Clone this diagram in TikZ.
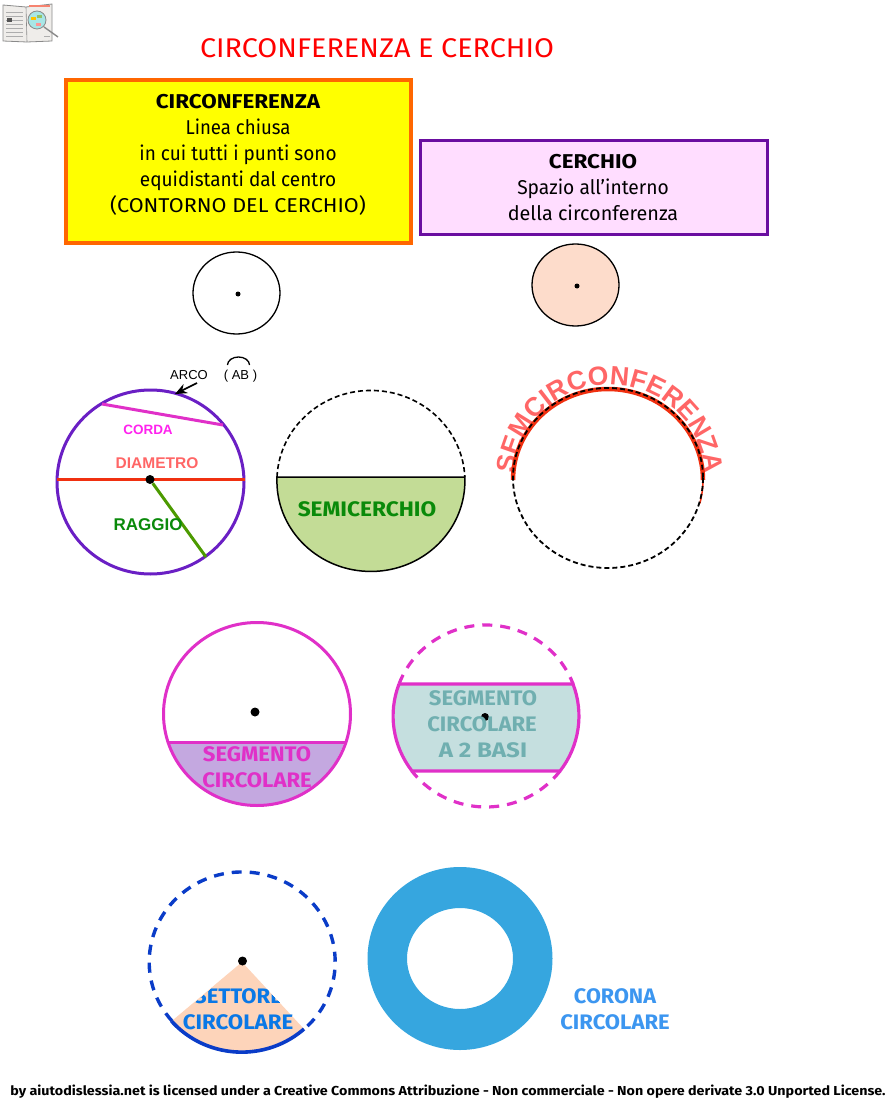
\documentclass[tikz,border=0pt]{standalone}
\usepackage{fontspec}
\usepackage{graphicx}
\usetikzlibrary{decorations.text,arrows.meta}
\setmainfont{Fira Sans}
\newfontfamily\arialf{Liberation Sans}
\newcommand\sxx[2]{\scalebox{#1}[1]{#2}}
\definecolor{purp}{HTML}{6A1FC4}
\definecolor{pink}{HTML}{E030C8}
\definecolor{redl}{HTML}{F03010}
\definecolor{salmon}{HTML}{FF6666}
\definecolor{grn}{HTML}{4C9A00}
\definecolor{dgreen}{HTML}{0A8A0A}
\definecolor{peach}{HTML}{FDDCCB}
\definecolor{sect}{HTML}{FDD4BA}
\definecolor{lgreen}{HTML}{C3DC96}
\definecolor{lilac}{HTML}{C4A8E0}
\definecolor{pale}{HTML}{C5DFDF}
\definecolor{teal2}{HTML}{70AFB0}
\definecolor{blued}{HTML}{0A3CC8}
\definecolor{bluet}{HTML}{0A78E6}
\definecolor{ringc}{HTML}{36A6DF}
\definecolor{coronat}{HTML}{3C96F0}
\definecolor{pureyellow}{HTML}{FFFF00}
\definecolor{purered}{HTML}{FF0000}
\definecolor{puremag}{HTML}{FF22EE}
\definecolor{orangeb}{HTML}{FF6600}
\definecolor{purpb}{HTML}{6A0DA0}
\definecolor{pinkb}{HTML}{FFDDFF}
\definecolor{ink}{HTML}{000000}
\definecolor{pageg}{HTML}{EFEDEA}
\definecolor{pagel}{HTML}{8A8A8A}
\definecolor{lens}{HTML}{A8E6E6}
\tikzset{
  txt/.style={inner sep=0pt,anchor=base,font=\fontsize{20}{26}\selectfont,text=ink},
  lab/.style={inner sep=0pt,font=\fontsize{21}{26}\selectfont\bfseries},
  arl/.style={inner sep=0pt},
  dotp/.style={circle,fill=ink,inner sep=0pt,minimum size=#1},
}
\begin{document}
\begin{tikzpicture}[x=1pt,y=-1pt]
\useasboundingbox (0,0) rectangle (889,1115);
% icon
\draw[pagel,line width=.8pt,fill=pageg] (3,5) -- (26,7) -- (52,4) -- (52,41) -- (27,42) -- (3,41) -- cycle;
\draw[pagel,line width=.6pt] (26,7) -- (27,42);
\foreach \yy in {12,16,20,24,28,32,36}{\draw[pagel!70,line width=.7pt] (6,\yy) -- (23,\yy);}
\fill[pagel!60!black] (7,18) rectangle (12,22);
\draw[redl!60,line width=1.2pt] (29,6) -- (50,6);
\draw[pagel!70,line width=.7pt] (44,36) -- (50,36);
\draw[pagel,line width=1.4pt] (44,27) -- (58,37);
\draw[pagel,fill=lens,line width=.8pt] (37,20) circle[radius=9];
\fill[pureyellow!60!orangeb] (31,17) rectangle (36,20);
\fill[grn!60] (37,15) rectangle (42,18);
\fill[salmon!70] (36,23) rectangle (41,26);
% title
\node[inner sep=0pt,text=purered,font=\fontsize{27}{30}\selectfont] (title) at (377,48) {\sxx{1.066}{CIRCONFERENZA E CERCHIO}};
% boxes
\draw[draw=orangeb,fill=pureyellow,line width=4pt] (66,80) rectangle (411,243);
\node[txt] (b1) at (238,109) {\bfseries\sxx{1.12}{CIRCONFERENZA}};
\node[txt] (b2) at (238,135) {\sxx{0.93}{Linea chiusa}};
\node[txt] (b3) at (238,161) {\sxx{0.95}{in cui tutti i punti sono}};
\node[txt] (b4) at (238,187) {\sxx{0.95}{equidistanti dal centro}};
\node[txt] (b5) at (238,213) {\sxx{1.08}{(CONTORNO DEL CERCHIO)}};
\draw[draw=purpb,fill=pinkb,line width=3pt] (420,141) rectangle (767,235);
\node[txt] (c1) at (593,169) {\bfseries\sxx{1.12}{CERCHIO}};
\node[txt] (c2) at (593,195) {\sxx{.96}{Spazio all'interno}};
\node[txt] (c3) at (593,221) {\sxx{.99}{della circonferenza}};
% top circles
\draw[ink,line width=1.3pt] (236.5,293) ellipse[x radius=43.5,y radius=41];
\node[dotp=5pt] (d1) at (238,294) {};
\draw[ink,line width=1.3pt,fill=peach] (575.5,285) ellipse[x radius=43.5,y radius=41];
\node[dotp=5pt] (d2) at (577,286) {};
% anatomy
\draw[purp,line width=3pt] (150.5,482) ellipse[x radius=93.5,y radius=92];
\coordinate (cl) at (102,404); \coordinate (cr) at (223,425);
\draw[pink,line width=3pt] (cl) -- (cr);
\coordinate (dl) at (57,479.5); \coordinate (dr) at (245,479.5);
\draw[redl,line width=3pt] (dl) -- (dr);
\node[dotp=9pt] (ctr) at (150,479.5) {};
\coordinate (re) at (206,557);
\draw[grn,line width=3pt] (ctr) -- (re);
\node[arl,text=puremag,font=\arialf\fontsize{13.5}{15}\selectfont\bfseries] (corda) at (148,430) {CORDA};
\node[arl,text=salmon,font=\arialf\fontsize{15.5}{17}\selectfont\bfseries] (diam) at (157,463) {DIAMETRO};
\node[arl,text=dgreen,font=\arialf\fontsize{17}{19}\selectfont\bfseries] (rag) at (148,525) {RAGGIO};
\node[arl,text=ink,font=\arialf\fontsize{13}{15}\selectfont] (arco) at (189,375) {ARCO};
\coordinate (ap) at (175,394);
\coordinate (as) at (197,383);
\draw[ink,line width=1.6pt,-{Stealth[length=12pt,width=10pt]}] (as) -- (ap);
\node[arl,text=ink,font=\arialf\fontsize{13}{15}\selectfont] (ab) at (240.5,376) {( AB )};
\draw[ink,line width=1.3pt] (227.5,365) arc[start angle=180,end angle=360,x radius=11,y radius=8];
% semicerchio
\fill[lgreen] (277,477) arc[start angle=182.5,end angle=-2.5,x radius=94,y radius=90.5] -- cycle;
\draw[ink,line width=1.6pt,dash pattern=on 5pt off 3pt] (277,477) arc[start angle=182.5,end angle=357.5,x radius=94,y radius=90.5];
\draw[ink,line width=1.5pt] (277,477) arc[start angle=182.5,end angle=-2.5,x radius=94,y radius=90.5] -- cycle;
\node[lab,text=dgreen] (semi) at (367,509) {\sxx{1.08}{SEMICERCHIO}};
% semicirconferenza
\path[decorate,decoration={text along path,text align=center,
  text={|\arialf\fontsize{26.5}{30}\selectfont\bfseries\color{salmon}|SEMCIRCONFERENZA}}]
  (515,478) arc[start angle=180,end angle=360,x radius=95,y radius=93];
\draw[redl,line width=4.5pt] (513,480) arc[start angle=180,end angle=360,x radius=95,y radius=91];
\draw[redl,line width=1.5pt] (703,480) arc[start angle=0,end angle=15,x radius=95,y radius=91];
\draw[ink,line width=1.8pt,dash pattern=on 5pt off 3pt] (703,478) arc[start angle=0,end angle=360,x radius=95,y radius=90];
% segmento circolare
\fill[lilac] (169,742) arc[start angle=162.3,end angle=17.7,x radius=92,y radius=92] -- cycle;
\draw[pink,line width=3pt] (257,714) ellipse[x radius=93.5,y radius=91.5];
\draw[pink,line width=3pt] (168,742) -- (346,742);
\node[dotp=9pt] (d3) at (255,712) {};
\node[lab,text=pink] (s1) at (257,754) {\sxx{1.05}{SEGMENTO}};
\node[lab,text=pink] (s2) at (257,780) {\sxx{1.05}{CIRCOLARE}};
% segmento a due basi
\fill[pale] (573,684) arc[start angle=-20.6,end angle=37.2,x radius=93,y radius=91] -- (412,771) arc[start angle=142.8,end angle=200.6,x radius=93,y radius=91] -- cycle;
\draw[pink,line width=3.2pt] (399,684) -- (573,684) arc[start angle=-20.6,end angle=37.2,x radius=93,y radius=91] -- (412,771) arc[start angle=142.8,end angle=200.6,x radius=93,y radius=91];
\draw[pink,line width=3.2pt,dash pattern=on 10pt off 8pt] (399,684) arc[start angle=200.6,end angle=339.4,x radius=93,y radius=91];
\draw[pink,line width=3.2pt,dash pattern=on 10pt off 8pt] (560,771) arc[start angle=37.2,end angle=142.8,x radius=93,y radius=91];
\node[dotp=8pt] (d4) at (485,717) {};
\node[lab,text=teal2] (t1) at (483,698) {\sxx{1.05}{SEGMENTO}};
\node[lab,text=teal2] (t2) at (482,724) {\sxx{1.05}{CIRCOLARE}};
\node[lab,text=teal2] (t3) at (483,750) {\sxx{1.15}{A 2 BASI}};
% settore
\fill[sect] (242,962) -- (304,1029) arc[start angle=48,end angle=139,x radius=93,y radius=90] -- cycle;
\begin{scope}
\clip (242,962) -- (304,1029) arc[start angle=48,end angle=139,x radius=93,y radius=90] -- cycle;
\node[lab,text=bluet] (u1) at (238,996) {\sxx{1.05}{SETTORE}};
\end{scope}
\node[lab,text=bluet] (u2) at (238,1022) {\sxx{1.06}{CIRCOLARE}};
\draw[blued,line width=3.6pt] (304,1029) arc[start angle=48,end angle=139,x radius=93,y radius=90];
\draw[blued,line width=3.4pt,dash pattern=on 10pt off 8pt] (172,1021) arc[start angle=139,end angle=408,x radius=93,y radius=90];
\node[dotp=9pt] (d5) at (242.5,961) {};
% corona
\fill[ringc,even odd rule] (460,958.5) ellipse[x radius=92.5,y radius=91.5] (460,958.5) ellipse[x radius=53,y radius=50.5];
\node[lab,text=coronat] (k1) at (615,996) {\sxx{1.03}{CORONA}};
\node[lab,text=coronat] (k2) at (615,1022) {\sxx{1.05}{CIRCOLARE}};
% footer
\node[inner sep=0pt,text=ink,font=\fontsize{13}{15}\selectfont\bfseries] (foot) at (448,1092) {\sxx{1.10}{by aiutodislessia.net is licensed under a Creative Commons Attribuzione - Non commerciale - Non opere derivate 3.0 Unported License.}};
\end{tikzpicture}
\end{document}
